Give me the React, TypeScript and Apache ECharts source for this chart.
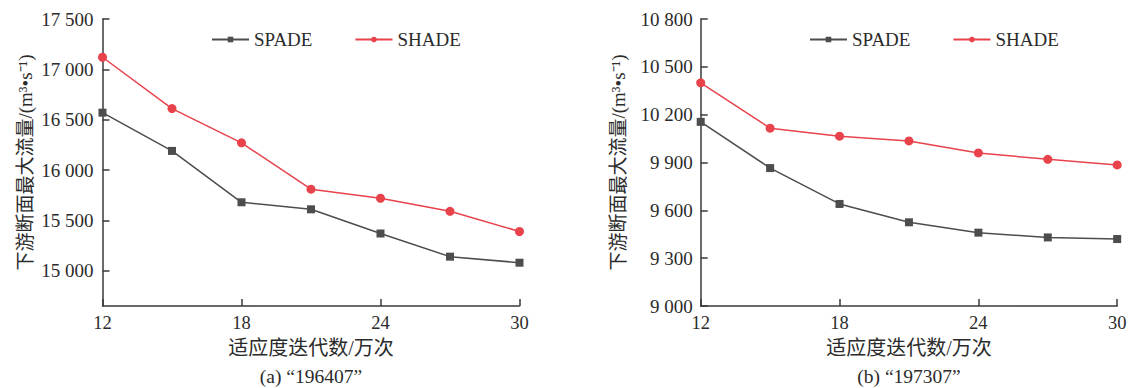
import React, { useEffect, useRef } from "react";
import * as echarts from "echarts";

const iterations = [12, 15, 18, 21, 24, 27, 30];
const spadeA = [16570, 16190, 15680, 15610, 15370, 15140, 15080];
const shadeA = [17120, 16610, 16270, 15810, 15720, 15590, 15390];
const spadeB = [10155, 9865, 9640, 9525, 9460, 9430, 9420];
const shadeB = [10400, 10115, 10065, 10035, 9960, 9920, 9885];
const yTicksA = [15000, 15500, 16000, 16500, 17000, 17500];
const captionA = "(a) “196407”";
const captionB = "(b) “197307”";

const SPADE_COLOR = "#4d4d4d";
const SHADE_COLOR = "#e8424b";
const AXIS_COLOR = "#3a3a3a";
const TEXT_COLOR = "#2b2b2b";
const SERIF = "'Liberation Serif', 'Times New Roman', 'Noto Sans CJK SC', serif";
const NAME_FONT = "'Liberation Serif', 'Noto Sans CJK SC', serif";

const fmt = (v: number) => {
  const s = String(Math.round(v));
  if (s.length <= 3) return s;
  return s.slice(0, s.length - 3) + " " + s.slice(s.length - 3);
};

export default function App() {
  const ref = useRef<HTMLDivElement>(null);
  useEffect(() => {
    if (!ref.current) return;
    const chart = echarts.init(ref.current, undefined, { renderer: "svg" });
    const pairs = (vals: number[]) => iterations.map((x, i) => [x, vals[i]]);
    const xAxisBase = (gridIndex: number) => ({
      type: "value",
      gridIndex,
      min: 12,
      max: 30,
      interval: 6,
      name: "适应度迭代数/万次",
      nameLocation: "middle",
      nameGap: 32,
      nameTextStyle: { fontFamily: NAME_FONT, fontSize: 20, color: TEXT_COLOR },
      axisLine: { show: true, lineStyle: { color: AXIS_COLOR, width: 1.5 } },
      axisTick: { show: true, inside: true, length: 7, lineStyle: { color: AXIS_COLOR, width: 1.5 } },
      axisLabel: { fontFamily: SERIF, fontSize: 18.5, color: TEXT_COLOR, margin: 8 },
      splitLine: { show: false },
    });
    const legendBase = (left: number) => ({
      left,
      top: 30,
      padding: 0,
      itemWidth: 37,
      itemHeight: 7,
      itemGap: 42,
      textStyle: { fontFamily: SERIF, fontSize: 19, color: TEXT_COLOR },
      data: ["SPADE", "SHADE"],
    });
    const yName = "下游断面最大流量/(m³•s⁻¹)";
    const series = (
      name: string,
      idx: number,
      vals: number[],
      color: string,
      symbol: string,
      size: number
    ) => ({
      name,
      type: "line",
      xAxisIndex: idx,
      yAxisIndex: idx,
      data: pairs(vals),
      symbol,
      symbolSize: size,
      lineStyle: { color, width: 1.5 },
      itemStyle: { color },
    });
    const option: any = {
      animation: false,
      backgroundColor: "#ffffff",
      grid: [
        { left: 102.5, top: 19, width: 417, height: 287 },
        { left: 700.7, top: 19, width: 416.5, height: 287 },
      ],
      xAxis: [xAxisBase(0), xAxisBase(1)],
      yAxis: [
        {
          type: "value",
          gridIndex: 0,
          min: 14650,
          max: 17500,
          name: yName,
          nameLocation: "middle",
          nameRotate: 90,
          nameGap: 68,
          nameTextStyle: { fontFamily: NAME_FONT, fontSize: 19, color: TEXT_COLOR },
          axisLine: { show: true, lineStyle: { color: AXIS_COLOR, width: 1.5 } },
          axisTick: {
            show: true,
            inside: true,
            length: 7,
            customValues: yTicksA,
            lineStyle: { color: AXIS_COLOR, width: 1.5 },
          },
          axisLabel: {
            fontFamily: SERIF,
            fontSize: 19,
            color: TEXT_COLOR,
            margin: 9,
            customValues: yTicksA,
            formatter: (v: number) => fmt(v),
          },
          splitLine: { show: false },
        },
        {
          type: "value",
          gridIndex: 1,
          min: 9000,
          max: 10800,
          interval: 300,
          name: yName,
          nameLocation: "middle",
          nameRotate: 90,
          nameGap: 73,
          nameTextStyle: { fontFamily: NAME_FONT, fontSize: 19, color: TEXT_COLOR },
          axisLine: { show: true, lineStyle: { color: AXIS_COLOR, width: 1.5 } },
          axisTick: { show: true, inside: true, length: 7, lineStyle: { color: AXIS_COLOR, width: 1.5 } },
          axisLabel: {
            fontFamily: SERIF,
            fontSize: 19,
            color: TEXT_COLOR,
            margin: 8,
            formatter: (v: number) => fmt(v),
          },
          splitLine: { show: false },
        },
      ],
      legend: [legendBase(211), legendBase(809)],
      series: [
        series("SPADE", 0, spadeA, SPADE_COLOR, "rect", 8),
        series("SHADE", 0, shadeA, SHADE_COLOR, "circle", 9),
        series("SPADE", 1, spadeB, SPADE_COLOR, "rect", 8),
        series("SHADE", 1, shadeB, SHADE_COLOR, "circle", 9),
      ],
      graphic: [
        {
          type: "text",
          x: 311,
          y: 376,
          style: {
            text: captionA,
            fontFamily: SERIF,
            fontSize: 19.5,
            fill: TEXT_COLOR,
            textAlign: "center",
            textVerticalAlign: "middle",
          },
        },
        {
          type: "text",
          x: 909,
          y: 376,
          style: {
            text: captionB,
            fontFamily: SERIF,
            fontSize: 19.5,
            fill: TEXT_COLOR,
            textAlign: "center",
            textVerticalAlign: "middle",
          },
        },
      ],
    };
    chart.setOption(option);
    return () => chart.dispose();
  }, []);
  return (
    <div
      ref={ref}
      style={{ position: "absolute", left: 0, top: 0, width: 1131, height: 388 }}
    />
  );
}
